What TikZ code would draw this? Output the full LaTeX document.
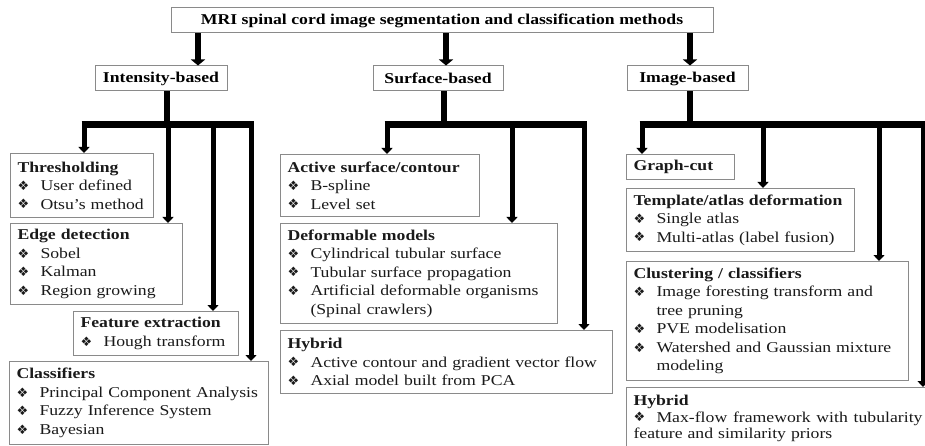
\documentclass[tikz,border=0pt]{standalone}
\usepackage{fontspec}
\setmainfont{Liberation Serif}[FakeStretch=1.18]
\newfontfamily\dejavu{DejaVu Sans}
\usetikzlibrary{arrows.meta}
\definecolor{boxgray}{HTML}{8A8A8A}
\definecolor{txtgray}{HTML}{1A1A1A}
\newcommand{\bulsym}{{\fontsize{13}{13}\dejavu\raisebox{0.3pt}{❖}}}
\newcommand{\cattitle}[1]{\mbox{\bfseries #1}}
\newcommand{\catitem}[1]{\mbox{\makebox[23pt][l]{\bulsym}#1}}
\newcommand{\catcont}[1]{\mbox{\hspace*{23pt}#1}}
\begin{document}
\begin{tikzpicture}[x=1pt,y=-1pt,
  cat/.style={draw=boxgray, line width=1pt, anchor=north west, inner xsep=7pt, inner ysep=1pt,
    align=left, font=\fontsize{15}{18.5}\selectfont, text=txtgray},
  head/.style={draw=boxgray, line width=1pt, font=\fontsize{15}{18}\selectfont\bfseries, inner sep=0pt},
  bigarrow/.style={line width=6pt, -{Triangle[width=14pt,length=6pt]}},
  barline/.style={line width=7pt},
  trunk/.style={line width=6pt},
  branch/.style={line width=5pt, -{Triangle[width=11pt,length=6pt]}}]
\useasboundingbox (0,0) rectangle (925,446);
\fill[white] (0,0) rectangle (925,446);
\clip (0,0) rectangle (925,446);

% headers
\node[head, minimum width=542pt, minimum height=25pt] (top) at (442,20.5) {MRI spinal cord image segmentation and classification methods};
\node[head, minimum width=132pt, minimum height=25pt] (int) at (161,78.5) {Intensity-based};
\node[head, minimum width=130pt, minimum height=25pt] (surf) at (438,78.5) {Surface-based};
\node[head, minimum width=121pt, minimum height=25pt] (img) at (687.5,78.5) {Image-based};

% intensity boxes
\node[cat, text width=129pt, minimum height=64pt] (thr) at (10,153) {\cattitle{Thresholding}\\\catitem{User defined}\\\catitem{Otsu’s method}};
\node[cat, text width=158pt, minimum height=81pt] (edge) at (10,223) {\cattitle{Edge detection}\\\catitem{Sobel}\\\catitem{Kalman}\\\catitem{Region growing}};
\node[cat, text width=151pt, minimum height=44pt] (feat) at (73,311) {\cattitle{Feature extraction}\\\catitem{Hough transform}};
\node[cat, text width=245pt, minimum height=83pt] (cls) at (9,361) {\cattitle{Classifiers}\\\catitem{Principal Component Analysis}\\\catitem{Fuzzy Inference System}\\\catitem{Bayesian}};

% surface boxes
\node[cat, text width=185pt, minimum height=62pt] (act) at (280,154) {\cattitle{Active surface/contour}\\\catitem{B-spline}\\\catitem{Level set}};
\node[cat, text width=263pt, minimum height=100pt] (def) at (280,223) {\cattitle{Deformable models}\\\catitem{Cylindrical tubular surface}\\\catitem{Tubular surface propagation}\\\catitem{Artificial deformable organisms}\\\catcont{(Spinal crawlers)}};
\node[cat, text width=318pt, minimum height=63pt] (hyb1) at (280,330) {\cattitle{Hybrid}\\\catitem{Active contour and gradient vector flow}\\\catitem{Axial model built from PCA}};

% image boxes
\node[cat, text width=94pt, minimum height=25pt] (gc) at (626,154) {\cattitle{Graph-cut}};
\node[cat, text width=214pt, minimum height=63pt] (tpl) at (626,188) {\cattitle{Template/atlas deformation}\\\catitem{Single atlas}\\\catitem{Multi-atlas (label fusion)}};
\node[cat, text width=268pt, minimum height=119pt] (clu) at (626,261) {\cattitle{Clustering / classifiers}\\\catitem{Image foresting transform and}\\\catcont{tree pruning}\\\catitem{PVE modelisation}\\\catitem{Watershed and Gaussian mixture}\\\catcont{modeling}};
\node[cat, text width=326pt, minimum height=62pt, font=\fontsize{15}{16.5}\selectfont] (hyb2) at (626,387) {\cattitle{Hybrid}\\\catitem{\makebox[266pt][l]{Max-flow\hfill framework\hfill with\hfill tubularity}}\\\mbox{feature and similarity priors}};

% top arrows
\coordinate (t1) at (198,0);
\coordinate (t2) at (446,0);
\coordinate (t3) at (690,0);
\draw[bigarrow] (top.south -| t1) -- (int.north -| t1);
\draw[bigarrow] (top.south -| t2) -- (surf.north -| t2);
\draw[bigarrow] (top.south -| t3) -- (img.north -| t3);

% intensity tree
\coordinate (ibar) at (167,124.5);
\coordinate (ibl) at (81.5,124.5);
\coordinate (ibr) at (253.5,124.5);
\draw[trunk] (int.south -| ibar) -- (ibar);
\draw[barline] (ibl) -- (ibr);
\coordinate (i1) at (84,124.5);
\coordinate (i2) at (168,124.5);
\coordinate (i3) at (213,124.5);
\coordinate (i4) at (251,124.5);
\draw[branch] (i1) -- (i1 |- thr.north);
\draw[branch] (i2) -- (i2 |- edge.north);
\draw[branch] (i3) -- (i3 |- feat.north);
\draw[branch] (i4) -- (i4 |- cls.north);

% surface tree
\coordinate (sbar) at (444,124.5);
\coordinate (sbl) at (384.5,124.5);
\coordinate (sbr) at (586.5,124.5);
\draw[trunk] (surf.south -| sbar) -- (sbar);
\draw[barline] (sbl) -- (sbr);
\coordinate (s1) at (387,124.5);
\coordinate (s2) at (512,124.5);
\coordinate (s3) at (584,124.5);
\draw[branch] (s1) -- (s1 |- act.north);
\draw[branch] (s2) -- (s2 |- def.north);
\draw[branch] (s3) -- (s3 |- hyb1.north);

% image tree
\coordinate (mbar) at (690,124.5);
\coordinate (mbl) at (639.5,124.5);
\coordinate (mbr) at (935,124.5);
\draw[trunk] (img.south -| mbar) -- (mbar);
\draw[barline] (mbl) -- (mbr);
\coordinate (m1) at (642,124.5);
\coordinate (m2) at (763,124.5);
\coordinate (m3) at (879,124.5);
\coordinate (m4) at (923,124.5);
\draw[branch] (m1) -- (m1 |- gc.north);
\draw[branch] (m2) -- (m2 |- tpl.north);
\draw[branch] (m3) -- (m3 |- clu.north);
\draw[branch] (m4) -- (m4 |- hyb2.north);
\end{tikzpicture}
\end{document}
